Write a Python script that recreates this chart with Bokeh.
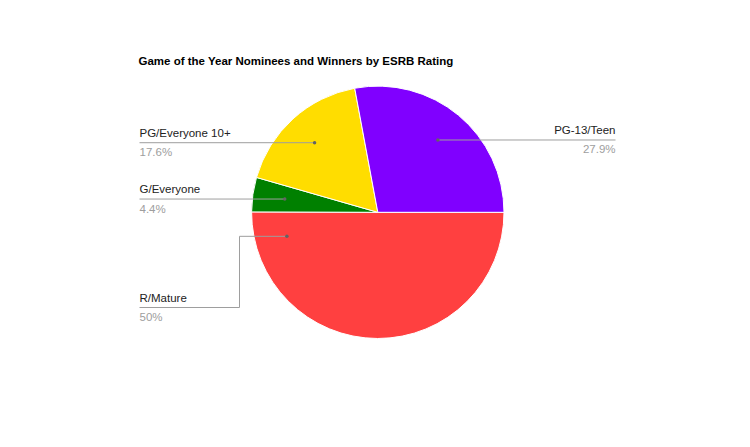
import math
from bokeh.plotting import figure
from bokeh.models import Range1d, ColumnDataSource, Label
from bokeh.embed import file_html
from bokeh.resources import INLINE
from bokeh.core.properties import value

# ---- data ----
title_text = "Game of the Year Nominees and Winners by ESRB Rating"
ratings = ["R/Mature", "G/Everyone", "PG/Everyone 10+", "PG-13/Teen"]
shares = [50.0, 4.4, 17.6, 27.9]
pct_labels = ["50%", "4.4%", "17.6%", "27.9%"]
colors = ["#ff4040", "#008000", "#ffdd00", "#8000ff"]

# ---- layout ----
W, H = 734, 431
PAGE_H = 447
def sy(y):  # screen y -> data y
    return PAGE_H - y

p = figure(width=W, height=H, output_backend="svg", toolbar_location=None,
           x_range=Range1d(0, W), y_range=Range1d(PAGE_H - H, PAGE_H),
           min_border=0, background_fill_color="white", border_fill_color="white")
p.axis.visible = False
p.grid.visible = False
p.outline_line_color = None

cx, cy, r = 377.3, sy(211.8), 126.2

total = sum(shares)
starts, ends, mids = [], [], []
a = 0.0
for s in shares:
    span = s / total * 2 * math.pi
    starts.append(a)
    ends.append(a - span)
    mids.append(a - span / 2)
    a -= span

src = ColumnDataSource(dict(start=starts, end=ends, color=colors))
p.wedge(x=cx, y=cy, radius=r, start_angle="start", end_angle="end",
        direction="clock", fill_color="color", line_color="white",
        line_width=1, source=src)

# leader anchors (the half-slice anchor sits just below its left edge)
anchor_angles = list(mids)
anchor_angles[0] = math.radians(-165.2)
anchor_r = 0.745 * r

label_font = value("Liberation Sans")
FS = "11.5px"
left_x, right_x = 139, 615

line_y = {"R/Mature": 307, "G/Everyone": 199, "PG/Everyone 10+": 142, "PG-13/Teen": 139}

for i, name in enumerate(ratings):
    ax = cx + anchor_r * math.cos(anchor_angles[i])
    ay = cy + anchor_r * math.sin(anchor_angles[i])
    ly = sy(line_y[name])
    right = math.cos(anchor_angles[i]) > 0 and name != "R/Mature"
    if right:
        xs, ys = [ax, right_x], [ay, ay]
        tx, align = right_x, "right"
    else:
        if abs(ay - ly) > 2:
            bend = 239
            xs = [ax, bend, bend, left_x]
            ys = [ay, ay, ly, ly]
        else:
            xs, ys = [ax, left_x], [ay, ay]
        tx, align = left_x, "left"
    p.line(xs, ys, line_color="#9e9e9e", line_width=1)
    p.scatter([ax], [ay], size=3.5, fill_color="#636363", line_color=None)
    ly_text = ys[-1]
    p.text([tx], [ly_text + 10], text=[name], text_font=label_font, text_font_size=FS,
           text_color="#222222", text_align=align, text_baseline="middle")
    p.text([tx], [ly_text - 9.5], text=[pct_labels[i]], text_font=label_font, text_font_size=FS,
           text_color="#9e9e9e", text_align=align, text_baseline="middle")

p.add_layout(Label(x=138, y=sy(60), text=title_text, text_font="Liberation Sans",
                   text_font_size="11.5px", text_font_style="bold", text_color="#000000",
                   text_baseline="middle", text_align="left"))

open("out.html", "w").write(file_html(p, INLINE))
